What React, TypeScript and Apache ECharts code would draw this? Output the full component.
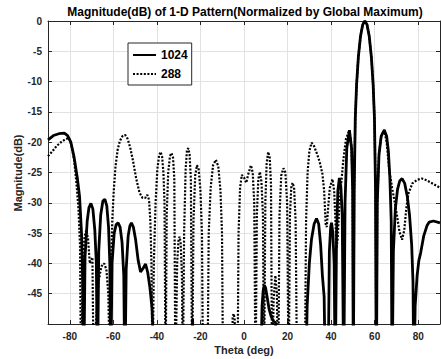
import React, { useEffect, useRef } from 'react';
import * as echarts from 'echarts';

// Series "1024" (solid): theta (deg) and magnitude (dB)
const theta1024 = [
  -90, -87.5, -85, -82.5, -81, -79.5, -78, -76.5, -75.5, -74.6, -74, -73.6, -73, -72, -71.2, -70.3, -69.4, -68.5, -67.8, -67.3,
  -66.7, -65.8, -64.8, -63.9, -63, -62.2, -61.6, -61.2, -60.6, -59.6, -58.7, -57.8, -56.9, -56, -55.2, -54.7, -54.1, -53.2, -52.4, -51.7,
  -50.8, -49.8, -48.6, -47.5, -46.3, -45.2, -44.2, -43.2, -42.2, -41, -30, -24.2, -23.6, -23, 0, 7.6, 8.3, 8.8, 9.3, 9.9,
  10.6, 11.5, 12.5, 13.5, 14.5, 15, 20, 28.3, 29, 30, 31, 32.2, 33.3, 34.3, 35.2, 36, 36.8, 37.4, 38.6, 39.2,
  39.8, 40.2, 40.8, 41.4, 41.9, 42.5, 43.1, 43.8, 44.5, 45.1, 45.8, 46.4, 47.2, 48.4, 49.4, 49.9, 50.2, 50.6, 51.1, 51.7,
  52.5, 53.5, 54.5, 55.5, 56.5, 57.5, 58.5, 59.3, 59.9, 60.4, 60.8, 61.2, 62, 63, 64.4, 65.5, 66.3, 67, 67.6, 68,
  68.6, 69.5, 70.5, 71.5, 72.6, 73.8, 75, 76, 77, 77.6, 78, 78.6, 79.5, 80.3, 81.1, 82.5, 84, 85, 87, 90,
];
const mag1024 = [
  -19.6, -18.9, -18.6, -18.5, -18.9, -20, -22.5, -26, -29, -35, -44, -60, -39, -33, -30.8, -30.1, -31, -34.5, -40, -60,
  -38, -32, -29.7, -29.4, -30.5, -34, -40, -60, -40, -35, -33.6, -33.3, -34, -36.5, -42, -60, -41, -35.5, -33.8, -33.3,
  -34, -36, -39.5, -41.4, -40.8, -40.1, -41.5, -44, -47.5, -60, -60, -60, -49.2, -60, -60, -60, -47, -44.5, -43.6, -44,
  -45.5, -47.5, -48.8, -49.5, -49.8, -60, -60, -60, -47, -40, -36, -33.5, -32.6, -33.5, -37, -42, -45.5, -60, -60, -38,
  -34, -33.3, -35, -40, -60, -35, -28, -25.9, -27.5, -32, -60, -30, -21, -18, -21, -28, -60, -28, -16, -10.5,
  -6, -2.5, -0.6, 0, -0.6, -2.5, -6, -10.5, -16, -28, -60, -30, -22, -19, -18, -19, -21.5, -26, -33, -60,
  -38, -31, -27.8, -26.4, -26, -26.8, -29, -32, -37, -43, -60, -47, -42, -39.5, -38.3, -35.5, -33.8, -33.2, -33, -33.3,
];

// Series "288" (dotted): theta (deg) and magnitude (dB)
const theta288 = [
  -90, -88, -86, -84, -82, -80.4, -79.2, -78, -77, -76, -75.3, -74.8, -74, -73.2, -72.4, -71.6, -70.8, -69.6, -69, -68,
  -66.8, -65.5, -64.2, -63.2, -62.3, -61.5, -61, -60.5, -59.8, -59, -58, -57, -55.8, -54.6, -53.5, -52.3, -51, -49.5, -48, -46.6,
  -45.4, -44.4, -43.6, -43, -42.5, -42, -41.4, -40.6, -39.8, -39, -38.3, -37.6, -37, -36.5, -36, -35.5, -34.8, -34, -33.3, -32.6,
  -32, -31.5, -30.7, -30.1, -29.6, -29.1, -28.5, -28.1, -27.5, -26.8, -26.2, -25.6, -25, -24.4, -23.8, -23.2, -22.4, -21.6, -20.8, -20,
  -19.3, -18.8, -16.8, -16.2, -15.3, -14.2, -12.9, -11.8, -10.8, -10.1, -9.6, -5.8, -5.2, -4.8, -4.3, -3.8, -3, -2.5, -1.8, -1,
  0, 1, 2, 3.2, 4, 4.7, 5.3, 5.9, 6.6, 7.3, 8, 8.7, 9.2, 9.8, 10.4, 11.1, 11.8, 12.4, 12.9, 13.6,
  14.4, 15.1, 15.7, 16.3, 17.1, 18.1, 19, 19.8, 20.5, 21.1, 21.7, 22.3, 23, 23.7, 24.4, 27.9, 28.5, 29.2, 30, 31,
  32, 33.3, 34.7, 36, 36.8, 37.5, 38, 38.6, 39.4, 40.6, 41.4, 42, 42.5, 43, 43.7, 44.6, 45.6, 46.8, 48.4, 49.4,
  49.9, 50.2, 50.6, 51.1, 51.7, 52.5, 53.5, 54.5, 55.5, 56.5, 57.5, 58.5, 59.3, 59.9, 60.4, 60.8, 61.2, 62, 63, 64.4,
  65.5, 66.7, 68, 69, 70.2, 71.4, 72.6, 73.6, 74.5, 75.5, 77.3, 79.5, 81.7, 84, 87, 90,
];
const mag288 = [
  -22.3, -21.5, -20.6, -20, -19.5, -19.3, -20.5, -23, -26.5, -31, -37, -60, -40, -35.5, -34.5, -36, -40, -39, -60, -50,
  -43, -40.5, -40, -41, -45, -60, -40, -33, -28, -24, -21.2, -19.8, -19, -18.8, -19.4, -20.8, -23, -26, -28.3, -29.2,
  -29.2, -28.7, -29.5, -33, -40, -60, -40, -30, -24.5, -22.2, -21.6, -22.4, -25, -30, -60, -32, -25, -22.3, -21.8, -22.5,
  -26, -60, -40, -36.3, -35.6, -36.5, -42, -60, -35, -24.5, -21.3, -21, -22, -26, -60, -33, -25.5, -23.8, -24.5, -28,
  -35, -60, -60, -35, -27.5, -23.8, -22.9, -24, -28, -35, -60, -60, -49, -48.3, -49, -60, -60, -35, -27.5, -25.4,
  -25.8, -26.7, -25.2, -23.8, -25, -30, -60, -32, -26, -24.9, -26.5, -32, -60, -30, -23.5, -21.6, -22.5, -27, -60, -46,
  -42, -45, -60, -32, -25.5, -24.3, -25, -30, -60, -32, -27.5, -26.7, -27.5, -33, -60, -60, -33, -25, -21.5, -20.1,
  -20.5, -21.7, -23.2, -25.2, -28, -33.5, -34, -31, -27.5, -26.1, -28, -33, -37.5, -36, -31, -27, -23, -19.5, -18, -21,
  -28, -60, -28, -16, -10.5, -6, -2.5, -0.6, 0, -0.6, -2.5, -6, -10.5, -16, -28, -60, -30, -22, -19, -18,
  -20, -24.6, -27.5, -29.5, -32, -34.8, -36.1, -34.5, -31, -28.5, -26.8, -26.2, -26, -26.3, -26.9, -27.5,
];

const seriesNames = ['1024', '288'];
const yTitle = 'Magnitude(dB)';
const xTitle = 'Theta (deg)';
const chartTitle = 'Magnitude(dB) of 1-D Pattern(Normalized by Global Maximum)';

const FONT = '"Liberation Sans", Arial, Helvetica, sans-serif';
const AX = '#262626';

export default function App() {
  const ref = useRef<HTMLDivElement>(null);
  useEffect(() => {
    if (!ref.current) return;
    const chart = echarts.init(ref.current, undefined, { renderer: 'svg' });
    const d1024 = theta1024.map((t, i) => [t, mag1024[i]]);
    const d288 = theta288.map((t, i) => [t, mag288[i]]);
    const axisLabelStyle = {
      fontFamily: FONT,
      fontWeight: 'bold' as const,
      fontSize: 10,
      color: AX,
    };
    const lineAx = { show: true, onZero: false, lineStyle: { color: AX, width: 1 } };
    const tickAx = { show: true, inside: true, length: 4, lineStyle: { color: AX } };
    chart.setOption({
      animation: false,
      backgroundColor: '#ffffff',
      grid: { left: 48, right: 1, top: 21, bottom: 35, show: false },
      legend: {
        left: 128,
        top: 43,
        orient: 'vertical',
        data: seriesNames,
        itemWidth: 23,
        itemHeight: 14,
        itemGap: 7,
        padding: [6, 4, 5, 4],
        backgroundColor: '#ffffff',
        borderColor: AX,
        borderWidth: 1,
        borderRadius: 0,
        itemStyle: { color: 'rgba(0,0,0,0)', borderWidth: 0, opacity: 0 },
        textStyle: { fontFamily: FONT, fontWeight: 'bold', fontSize: 12, color: '#000' },
      },
      xAxis: [
        {
          type: 'value',
          min: -90,
          max: 90,
          splitNumber: 9,
          position: 'bottom',
          axisLine: lineAx,
          axisTick: tickAx,
          axisLabel: { ...axisLabelStyle, margin: 7, showMinLabel: false, showMaxLabel: false },
          splitLine: { show: true, lineStyle: { color: '#e2e2e2', width: 1 } },
        },
        {
          type: 'value',
          min: -90,
          max: 90,
          splitNumber: 9,
          position: 'top',
          axisLine: lineAx,
          axisTick: tickAx,
          axisLabel: { show: false },
          splitLine: { show: false },
        },
      ],
      yAxis: [
        {
          type: 'value',
          min: -50,
          max: 0,
          interval: 5,
          position: 'left',
          axisLine: lineAx,
          axisTick: tickAx,
          axisLabel: { ...axisLabelStyle, margin: 6, showMinLabel: false },
          splitLine: { show: true, lineStyle: { color: '#e2e2e2', width: 1 } },
        },
        {
          type: 'value',
          min: -50,
          max: 0,
          interval: 5,
          position: 'right',
          axisLine: lineAx,
          axisTick: tickAx,
          axisLabel: { show: false },
          splitLine: { show: false },
        },
      ],
      graphic: [
        {
          type: 'text',
          x: 245,
          y: 12,
          style: {
            text: chartTitle,
            font: `bold 12px ${FONT}`,
            fill: '#000',
            textAlign: 'center',
            textVerticalAlign: 'middle',
          },
        },
        {
          type: 'text',
          x: 244,
          y: 350,
          style: {
            text: xTitle,
            font: `bold 11px ${FONT}`,
            fill: AX,
            textAlign: 'center',
            textVerticalAlign: 'middle',
          },
        },
        {
          type: 'text',
          x: 18,
          y: 173,
          rotation: Math.PI / 2,
          style: {
            text: yTitle,
            font: `bold 11px ${FONT}`,
            fill: AX,
            textAlign: 'center',
            textVerticalAlign: 'middle',
          },
        },
      ],
      series: [
        {
          name: seriesNames[1],
          type: 'line',
          data: d288,
          symbol: 'none',
          clip: true,
          lineStyle: { color: '#000', width: 2.2, type: [2, 1.6] },
          itemStyle: { color: '#000' },
          z: 2,
        },
        {
          name: seriesNames[0],
          type: 'line',
          data: d1024,
          symbol: 'none',
          clip: true,
          lineStyle: { color: '#000', width: 2.8, type: 'solid' },
          itemStyle: { color: '#000' },
          z: 3,
        },
      ],
    });
    return () => chart.dispose();
  }, []);
  return (
    <div
      ref={ref}
      style={{ position: 'fixed', left: 0, top: 0, width: 441, height: 359, background: '#fff' }}
    />
  );
}
